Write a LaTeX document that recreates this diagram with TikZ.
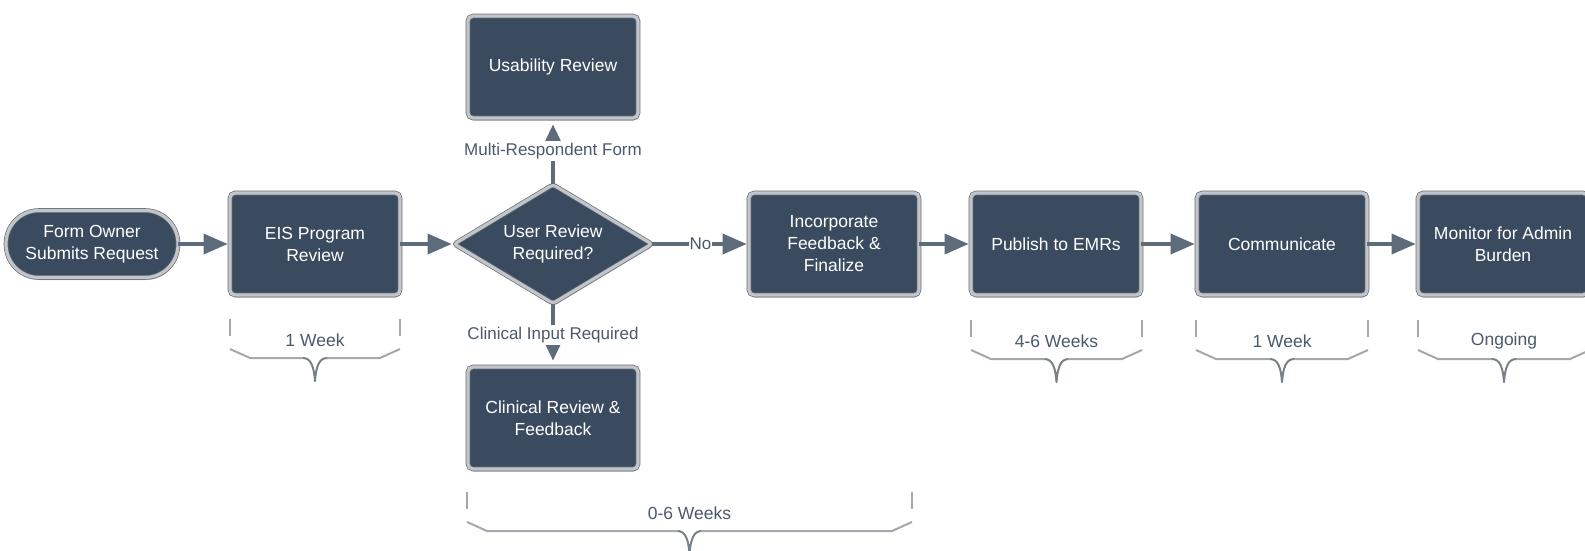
\documentclass[tikz,border=0pt]{standalone}
\usepackage{fontspec}
\setmainfont{Liberation Sans}
\usetikzlibrary{arrows.meta,shapes.geometric,shadows}
\definecolor{boxfill}{HTML}{3A4B5F}
\definecolor{rim}{HTML}{C2C6CA}
\definecolor{rimedge}{HTML}{666D75}
\definecolor{arrowc}{HTML}{5E6B7B}
\definecolor{lblc}{HTML}{4A596B}
\definecolor{bracec}{HTML}{A3A8AE}
\definecolor{bracetip}{HTML}{7A8088}
\begin{document}
\begin{tikzpicture}[x=1pt,y=-1pt,
  base/.style={fill=boxfill, draw=rimedge, line width=0.7pt, double=rim, double distance=3.2pt,
    text=white, align=center, font=\fontsize{17.5}{22}\selectfont, inner sep=0pt,
    drop shadow={opacity=0.5, shadow xshift=1pt, shadow yshift=-2.5pt}},
  box/.style={base, rectangle, rounded corners=5pt, minimum width=170, minimum height=102},
  startbox/.style={base, rectangle, rounded corners=33pt, minimum width=172, minimum height=67},
  decision/.style={base, diamond, aspect=1.65, minimum width=198, minimum height=119, rounded corners=3pt},
  arr/.style={draw=arrowc, line width=3.5pt, shorten >=2pt, -{Triangle[length=24pt,width=20pt]}},
  varr/.style={draw=arrowc, line width=3.5pt, shorten >=6pt, -{Triangle[length=17pt,width=15pt]}},
  lbl/.style={text=lblc, font=\fontsize{17}{20}\selectfont, fill=white, inner sep=2pt},
  tlbl/.style={text=lblc, font=\fontsize{17.5}{20}\selectfont, inner sep=0pt},
  brace/.style={draw=bracec, line width=2pt, line join=round},
  bracetipline/.style={draw=bracetip, line width=2pt, line join=round},
  tick/.style={draw=bracec, line width=2.2pt}
]
\path[use as bounding box, fill=white] (0,0) rectangle (1585,550);

\node[startbox] (start) at (92,244) {Form Owner\\Submits Request};
\node[box] (eis) at (315,244) {EIS Program\\Review};
\node[decision] (dec) at (553,244) {User Review\\Required?};
\node[box] (usab) at (553,67) {Usability Review};
\node[box] (clin) at (553,418) {Clinical Review \&\\Feedback};
\node[box] (inc) at (834,244) {Incorporate\\Feedback \&\\Finalize};
\node[box] (pub) at (1056,244) {Publish to EMRs};
\node[box] (comm) at (1282,244) {Communicate};
\node[box] (mon) at (1503,244) {Monitor for Admin\\Burden};

\draw[arr] (start) -- (eis);
\draw[arr] (eis) -- (dec);
\draw[arr] (dec) -- node[lbl, inner sep=1pt] {No} (inc);
\draw[arr] (inc) -- (pub);
\draw[arr] (pub) -- (comm);
\draw[arr] (comm) -- (mon);
\draw[varr] (dec) -- node[lbl] {Multi-Respondent Form} (usab);
\draw[varr] (dec) -- node[lbl] {Clinical Input Required} (clin);

\foreach \a/\b/\t/\l/\n in {230/400/319/1 Week/b1, 971/1142/320/4-6 Weeks/b2, 1196/1368/320/1 Week/b3, 1418/1590/320/Ongoing/b4, 467/912/492/0-6 Weeks/b5}{
  \pgfmathsetmacro{\m}{(\a+\b)/2}
  \draw[tick] (\a,\t) -- (\a,\t+17);
  \draw[tick] (\b,\t) -- (\b,\t+17);
  \draw[brace] (\a,\t+30) -- (\a+20,\t+39) -- (\m-12,\t+39);
  \draw[brace] (\m+12,\t+39) -- (\b-20,\t+39) -- (\b,\t+30);
  \draw[bracetipline] (\m-12,\t+39)
     .. controls (\m-4,\t+39) and (\m-1,\t+48) .. (\m,\t+62)
     .. controls (\m+1,\t+48) and (\m+4,\t+39) .. (\m+12,\t+39);
  \node[tlbl] (\n) at (\m,\t+21) {\l};
}
\end{tikzpicture}
\end{document}
